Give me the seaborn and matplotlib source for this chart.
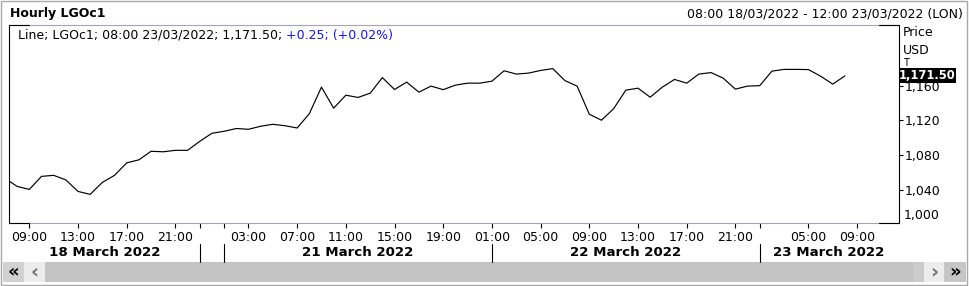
import numpy as np
import pandas as pd
import matplotlib
matplotlib.use("Agg")
import matplotlib.pyplot as plt
from matplotlib.patches import Rectangle
from matplotlib.lines import Line2D
from matplotlib.transforms import blended_transform_factory
import seaborn as sns

# ---------------- data ----------------
day_keys = ["18/03", "20/03", "21/03", "22/03", "23/03"]
day_first_hour = [7, 22, 1, 1, 1]
day_bar_count = [16, 2, 22, 22, 8]
day_titles = {"18/03": "18 March 2022", "21/03": "21 March 2022",
              "22/03": "22 March 2022", "23/03": "23 March 2022"}

prices = [1053.1, 1043.8, 1040.3, 1055.4, 1056.6, 1051.3, 1038.0, 1034.6, 1048.5, 1056.6,
          1071.0, 1074.5, 1084.4, 1083.8, 1085.5, 1085.5, 1095.9, 1105.2, 1107.5, 1110.7,
          1109.8, 1113.3, 1115.6, 1113.9, 1111.3, 1127.8, 1158.5, 1134.2, 1149.2, 1146.6,
          1151.5, 1169.5, 1155.8, 1164.3, 1152.7, 1159.7, 1155.6, 1160.8, 1163.1, 1163.1,
          1165.4, 1177.4, 1173.6, 1174.7, 1177.8, 1179.9, 1166.0, 1159.7, 1127.2, 1120.3,
          1133.6, 1155.0, 1157.3, 1146.9, 1158.5, 1167.4, 1163.1, 1173.6, 1175.3, 1168.9,
          1156.2, 1159.7, 1160.2, 1177.0, 1179.0, 1179.0, 1178.8, 1171.2, 1162.0, 1171.5]

tick_times = [("18/03", 9), ("18/03", 13), ("18/03", 17), ("18/03", 21),
              ("21/03", 3), ("21/03", 7), ("21/03", 11), ("21/03", 15), ("21/03", 19),
              ("22/03", 1), ("22/03", 5), ("22/03", 9), ("22/03", 13), ("22/03", 17), ("22/03", 21),
              ("23/03", 5), ("23/03", 9)]
view_start = ("18/03", 8)
view_end = ("23/03", 12)
y_ticks = [1040, 1080, 1120, 1160]
y_bottom_label = 1000
y_range = (1002.1, 1230.3)
last_text = "1,171.50"

# ---------------- positions ----------------
day_start = {}
p = 0
for k, c in zip(day_keys, day_bar_count):
    day_start[k] = p
    p += c
first_hour = dict(zip(day_keys, day_first_hour))


def pos(day, hour):
    return day_start[day] + hour - first_hour[day]


xpos = np.arange(len(prices))
df = pd.DataFrame({"x": xpos, "price": prices})

W, H = 969, 286
sns.set_theme(style="white")
plt.rcParams["font.family"] = ["DejaVu Sans"]
plt.rcParams["text.color"] = "black"
plt.rcParams["xtick.color"] = "black"
plt.rcParams["ytick.color"] = "black"

fig = plt.figure(figsize=(W / 100, H / 100), dpi=100)
fig.patch.set_facecolor("white")


def fx(px):
    return px / W


def fy(py):
    return 1 - py / H


L, R, T, B = 9, 898.5, 25, 222.5
ax = fig.add_axes([fx(L), fy(B), (R - L) / W, (B - T) / H])
ax.set_facecolor("white")

sns.lineplot(data=df, x="x", y="price", ax=ax, color="black", linewidth=0.85)

ax.set_xlim(pos(*view_start) - 0.67, pos(*view_end) + 0.4)
ax.set_ylim(*y_range)
ax.set_xlabel("")
ax.set_ylabel("")

grey = "#a4a4b4"
for s in ["top", "bottom"]:
    ax.spines[s].set_color(grey)
    ax.spines[s].set_linewidth(0.8)
for s in ["left", "right"]:
    ax.spines[s].set_color("black")
    ax.spines[s].set_linewidth(0.8)
# black corner segments
seg = 20 / (R - L)
for (x0, x1) in [(0, seg), (1 - seg, 1)]:
    for yv in (0, 1):
        ax.add_line(Line2D([x0, x1], [yv, yv], transform=ax.transAxes, color="black",
                           lw=0.8, clip_on=False, zorder=5))

fs = 9.0
# y axis on right
ax.yaxis.tick_right()
ax.set_yticks(y_ticks)
ax.set_yticklabels([f"{v:,}" for v in y_ticks])
ax.tick_params(axis="y", which="major", right=True, left=False, length=3, width=0.8,
               color="black", pad=1.2, labelsize=fs, labelcolor="black")

# x axis
ticks = [pos(d, h) for d, h in tick_times]
ax.set_xticks(ticks)
ax.set_xticklabels([f"{h:02d}:00" for d, h in tick_times])
seps = [day_start[k] for k in day_keys[1:]]
ax.set_xticks([s for s in seps if s not in ticks], minor=True)
ax.tick_params(axis="x", which="both", bottom=True, length=3.5, width=0.8, color="black",
               pad=2.5, labelsize=fs, labelcolor="black")

# day separators + day labels
btr = blended_transform_factory(ax.transData, fig.transFigure)
for s in seps:
    fig.add_artist(Line2D([s, s], [fy(244), fy(262)], transform=btr, color="black",
                          lw=0.8, clip_on=False))
xl = ax.get_xlim()
bounds = [day_start[k] for k in day_keys] + [xl[1]]
for i, k in enumerate(day_keys):
    if k not in day_titles:
        continue
    a = max(bounds[i], xl[0])
    b = min(bounds[i + 1], xl[1])
    fig.text(0, 0, day_titles[k], transform=btr, fontsize=9.6, fontweight="bold",
             color="black", ha="center", va="center").set_position(((a + b) / 2, fy(252)))

# 1,000 label
fig.text(fx(904), fy(215), f"{y_bottom_label:,}", fontsize=fs, ha="left", va="center")
# units
fig.text(fx(903), fy(33), "Price", fontsize=fs, ha="left", va="center")
fig.text(fx(903), fy(51), "USD", fontsize=fs, ha="left", va="center")
fig.text(fx(903), fy(62.5), "T", fontsize=7, ha="left", va="center", zorder=1)
# last value box
fig.add_artist(Rectangle((fx(898.5), fy(82.5)), (956 - 898.5) / W, 14.5 / H,
                         transform=fig.transFigure, facecolor="black", edgecolor="none",
                         zorder=10))
fig.text(fx(927), fy(75.3), last_text, color="white", fontsize=8.3, fontweight="bold",
         ha="center", va="center", zorder=11)

# header
fig.text(fx(10), fy(13), "Hourly LGOc1", fontsize=fs, fontweight="bold", ha="left",
         va="center")
fig.text(fx(963), fy(14), "08:00 18/03/2022 - 12:00 23/03/2022 (LON)", fontsize=fs,
         ha="right", va="center")

# legend line
t1 = fig.text(fx(18), fy(35), "Line; LGOc1; 08:00 23/03/2022; 1,171.50; ", fontsize=fs,
              ha="left", va="center")
ax.annotate("+0.25; (+0.02%)", xy=(1, 0), xycoords=t1, ha="left", va="bottom",
            fontsize=fs, color="#1414e6", annotation_clip=False)

# outer frame
fig.add_artist(Rectangle((fx(1), fy(285)), 966 / W, 284 / H, transform=fig.transFigure,
                         facecolor="none", edgecolor="#a8a8a8", lw=1.0))

# scroll bar
def rect(x0, x1, y0, y1, col):
    fig.add_artist(Rectangle((fx(x0), fy(y1)), (x1 - x0) / W, (y1 - y0) / H,
                             transform=fig.transFigure, facecolor=col, edgecolor="none"))

rect(3, 24, 262, 282, "#d2d2d2")
rect(24, 45, 262, 282, "#ececec")
rect(45, 913, 262, 282, "#c3c3c3")
rect(913, 924, 262, 282, "#cbcbcb")
rect(924, 944, 262, 282, "#ececec")
rect(944, 966, 262, 282, "#c6c6c6")
fig.text(fx(13.5), fy(272), "«", fontsize=13, fontweight="bold", ha="center", va="center")
fig.text(fx(34), fy(272), "‹", fontsize=14, fontweight="bold", color="#707070",
         ha="center", va="center")
fig.text(fx(934), fy(272), "›", fontsize=14, fontweight="bold", color="#707070",
         ha="center", va="center")
fig.text(fx(955), fy(272), "»", fontsize=13, fontweight="bold", ha="center", va="center")

fig.savefig("out.png", dpi=100)
